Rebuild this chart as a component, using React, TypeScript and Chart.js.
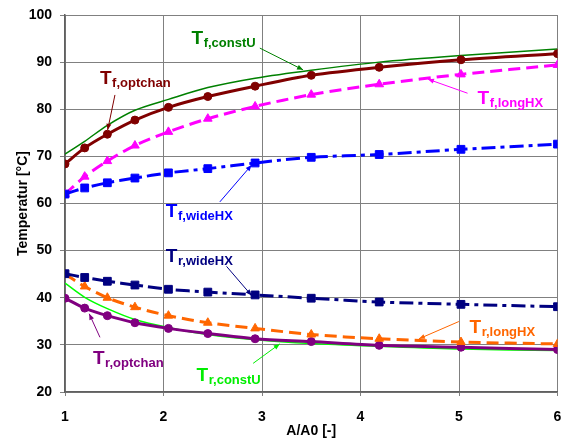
import React, { useEffect, useRef } from "react";
import { Chart, registerables } from "chart.js";

Chart.register(...registerables);

const areaRatio = [1, 1.2, 1.43, 1.71, 2.05, 2.45, 2.93, 3.5, 4.19, 5.02, 6];
const yTicks = [20, 30, 40, 50, 60, 70, 80, 90, 100];
const xTicks = [1, 2, 3, 4, 5, 6];

const tfConstU = [70.5, 73.2, 76.6, 79.8, 82.1, 84.6, 86.6, 88.3, 90.0, 91.4, 92.8];
const tfOptchan = [68.4, 71.8, 74.7, 77.7, 80.4, 82.7, 84.9, 87.2, 88.9, 90.5, 91.8];
const tfLongHX = [62.0, 65.7, 69.0, 72.3, 75.2, 78.0, 80.6, 83.1, 85.3, 87.4, 89.4];
const tfWideHX = [62.0, 63.3, 64.4, 65.4, 66.5, 67.4, 68.6, 69.8, 70.4, 71.5, 72.6];
const trWideHX = [45.1, 44.3, 43.5, 42.7, 41.8, 41.2, 40.6, 39.9, 39.1, 38.6, 38.1];
const trLongHX = [45.0, 42.4, 40.0, 38.0, 36.2, 34.7, 33.5, 32.2, 31.3, 30.6, 30.2];
const trOptchan = [39.9, 37.8, 36.2, 34.7, 33.5, 32.4, 31.3, 30.7, 29.9, 29.5, 29.0];
const trConstU = [43.1, 40.1, 37.7, 35.4, 33.7, 32.2, 31.1, 30.3, 29.7, 29.1, 28.8];

// annotation labels (data coordinates)
const annotations = [
  { sub: "f,constU", color: "#008000", x: 2.285, y: 93.77, from: [2.978, 92.98], to: [3.417, 88.36] },
  { sub: "f,optchan", color: "#800000", x: 1.355, y: 85.38, from: [1.507, 83.04], to: [1.433, 75.6] },
  { sub: "f,longHX", color: "#FF00FF", x: 5.189, y: 81.13, from: [5.087, 83.4], to: [4.685, 86.38] },
  { sub: "f,wideHX", color: "#0000FF", x: 2.024, y: 57.15, from: [2.572, 60.34], to: [2.894, 68.15] },
  { sub: "r,wideHX", color: "#000080", x: 2.024, y: 47.57, from: [2.64, 46.66], to: [2.894, 40.49] },
  { sub: "r,optchan", color: "#800080", x: 1.284, y: 26.02, from: [1.355, 31.6], to: [1.246, 36.6] },
  { sub: "r,constU", color: "#00EE00", x: 2.336, y: 22.4, from: [2.91, 26.08], to: [3.18, 30.21] },
  { sub: "r,longHX", color: "#FF6600", x: 5.107, y: 32.47, from: [4.999, 34.96], to: [4.593, 31.28] },
];

const FONT = "'Liberation Sans', Arial, sans-serif";

const pts = (ys: number[]) => areaRatio.map((x, i) => ({ x, y: ys[i] }));

const annotationPlugin = {
  id: "labelsArrows",
  afterDatasetsDraw(chart: any) {
    const ctx = chart.ctx;
    const xs = chart.scales.x;
    const ys = chart.scales.y;
    ctx.save();
    for (const a of annotations) {
      const px = xs.getPixelForValue(a.x);
      const py = ys.getPixelForValue(a.y);
      ctx.fillStyle = a.color;
      ctx.textBaseline = "alphabetic";
      ctx.textAlign = "left";
      ctx.font = `bold 19px ${FONT}`;
      ctx.fillText("T", px, py);
      const tw = ctx.measureText("T").width;
      ctx.font = `bold 13px ${FONT}`;
      ctx.fillText(a.sub, px + tw + 0.5, py + 3);
      // arrow
      const x1 = xs.getPixelForValue(a.from[0]);
      const y1 = ys.getPixelForValue(a.from[1]);
      const x2 = xs.getPixelForValue(a.to[0]);
      const y2 = ys.getPixelForValue(a.to[1]);
      ctx.strokeStyle = a.color;
      ctx.lineWidth = 1;
      ctx.beginPath();
      ctx.moveTo(x1, y1);
      ctx.lineTo(x2, y2);
      ctx.stroke();
      const ang = Math.atan2(y2 - y1, x2 - x1);
      const L = 6, W = 2.5;
      ctx.beginPath();
      ctx.moveTo(x2, y2);
      ctx.lineTo(x2 - L * Math.cos(ang) + W * Math.sin(ang), y2 - L * Math.sin(ang) - W * Math.cos(ang));
      ctx.lineTo(x2 - L * Math.cos(ang) - W * Math.sin(ang), y2 - L * Math.sin(ang) + W * Math.cos(ang));
      ctx.closePath();
      ctx.fill();
    }
    ctx.restore();
  },
};

export default function App() {
  const ref = useRef<HTMLCanvasElement | null>(null);
  useEffect(() => {
    if (!ref.current) return;
    const mk = (label: string, data: number[], color: string, width: number, style: any, radius: number, dash: number[] = []) => ({
      label,
      data: pts(data),
      borderColor: color,
      backgroundColor: color,
      borderWidth: width,
      borderDash: dash,
      pointStyle: style,
      pointRadius: radius,
      pointBackgroundColor: color,
      pointBorderColor: color,
      pointBorderWidth: 1,
      tension: 0.3,
      fill: false,
    });
    const chart = new Chart(ref.current, {
      type: "line",
      data: {
        datasets: [
          mk("Tf,wideHX", tfWideHX, "#0000FF", 3, "rect", 5.5, [14, 5, 4, 5]),
          mk("Tr,wideHX", trWideHX, "#000080", 3, "rect", 5.5, [14, 5, 4, 5]),
          mk("Tf,longHX", tfLongHX, "#FF00FF", 3, "triangle", 5, [12, 6]),
          mk("Tr,longHX", trLongHX, "#FF6600", 3, "triangle", 5, [12, 6]),
          mk("Tf,optchan", tfOptchan, "#800000", 3, "circle", 4),
          mk("Tr,optchan", trOptchan, "#800080", 3, "circle", 4),
          mk("Tf,constU", tfConstU, "#008000", 1.5, "circle", 0),
          mk("Tr,constU", trConstU, "#00FF00", 1.5, "circle", 0),
        ],
      },
      options: {
        animation: false,
        responsive: false,
        maintainAspectRatio: false,
        layout: { padding: { top: 15, right: 6, left: 0, bottom: 0 } },
        plugins: { legend: { display: false }, tooltip: { enabled: false } },
        scales: {
          x: {
            type: "linear",
            min: 1,
            max: 6,
            afterFit: (s: any) => { s.height = 47; s.paddingLeft = 0; s.paddingRight = 0; },
            afterBuildTicks: (s: any) => { s.ticks = xTicks.map((v) => ({ value: v })); },
            grid: { color: "#808080", lineWidth: 1, tickLength: 4, tickColor: "#808080" },
            border: { color: "#606060", width: 1.5 },
            ticks: { color: "#000", padding: 13, font: { family: FONT, size: 14, weight: "bold" } },
            title: { display: true, text: "A/A0 [-]", color: "#000", padding: { top: 0, bottom: -1 }, font: { family: FONT, size: 14, weight: "bold" } },
          },
          y: {
            type: "linear",
            min: 20,
            max: 100,
            afterFit: (s: any) => { s.width = 65; s.paddingTop = 0; s.paddingBottom = 0; },
            afterBuildTicks: (s: any) => { s.ticks = yTicks.map((v) => ({ value: v })); },
            grid: { color: "#808080", lineWidth: 1, tickLength: 5, tickColor: "#808080" },
            border: { color: "#606060", width: 1.5 },
            ticks: { color: "#000", padding: 8, font: { family: FONT, size: 14, weight: "bold" } },
            title: { display: true, text: "Temperatur [°C]", color: "#000", padding: { top: 15, bottom: 0 }, font: { family: FONT, size: 14, weight: "bold" } },
          },
        },
      },
      plugins: [annotationPlugin],
    } as any);
    return () => chart.destroy();
  }, []);
  return (
    <div style={{ position: "fixed", left: 0, top: 0, width: 564, height: 439, background: "#fff" }}>
      <canvas ref={ref} width={564} height={439} style={{ width: 564, height: 439, display: "block" }} />
    </div>
  );
}
